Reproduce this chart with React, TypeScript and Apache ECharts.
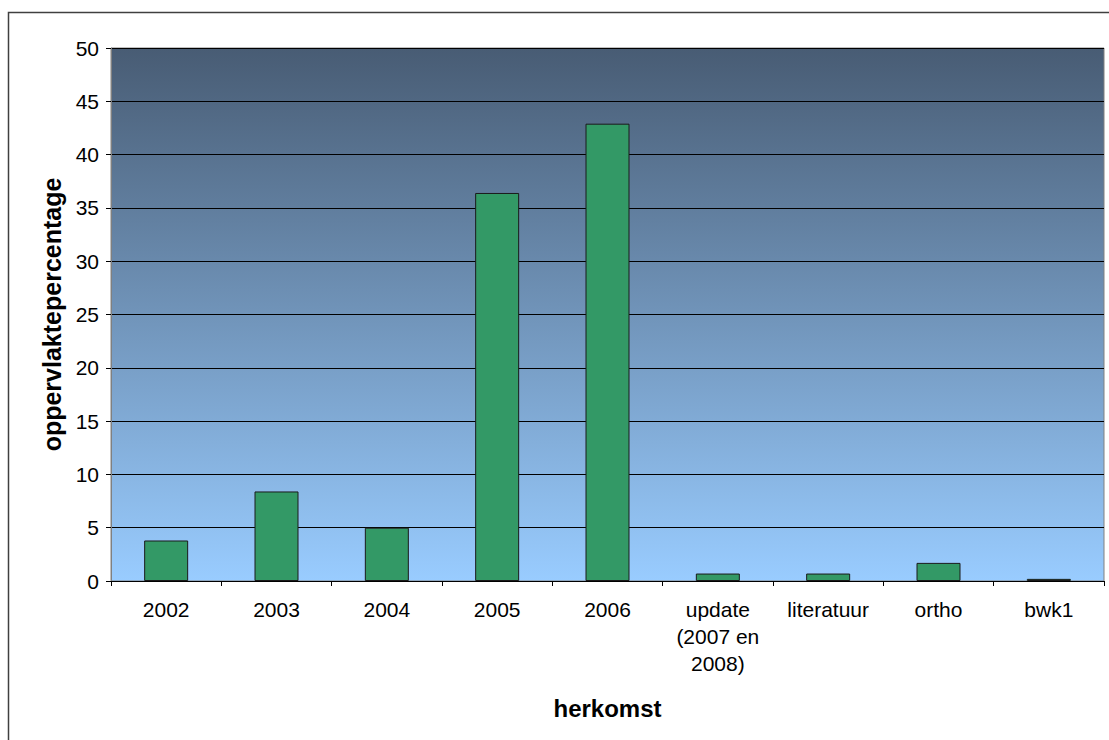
import React, { useEffect, useRef } from "react";
import * as echarts from "echarts";

const categories = ["2002", "2003", "2004", "2005", "2006", "update (2007 en 2008)", "literatuur", "ortho", "bwk1"];
const values = [3.8, 8.4, 5.0, 36.4, 42.9, 0.7, 0.7, 1.7, 0.2];
const yTicks = { min: 0, max: 50, interval: 5 };
const xTitle = "herkomst";
const yTitle = "oppervlaktepercentage";

export default function App() {
  const ref = useRef<HTMLDivElement>(null);
  useEffect(() => {
    if (!ref.current) return;
    const chart = echarts.init(ref.current, null, { renderer: "svg" });
    const font = "'Liberation Sans', Arial, sans-serif";
    chart.setOption({
      animation: false,
      textStyle: { fontFamily: font },
      grid: {
        left: 111,
        top: 48,
        right: 5,
        bottom: 159,
        show: true,
        borderColor: "#808080",
        borderWidth: 1,
        backgroundColor: new echarts.graphic.LinearGradient(0, 0, 0, 1, [
          { offset: 0, color: "#485c74" },
          { offset: 1, color: "#99ccff" },
        ]),
      },
      graphic: [
        {
          type: "rect",
          shape: { x: 8.5, y: 12.5, width: 1200, height: 800 },
          style: { fill: "none", stroke: "#404040", lineWidth: 1.5 },
          silent: true,
          z: -1,
        },
      ],
      xAxis: {
        type: "category",
        data: categories,
        name: xTitle,
        nameLocation: "middle",
        nameGap: 115,
        nameTextStyle: { fontSize: 24, fontWeight: "bold", color: "#000", fontFamily: font },
        axisLine: { show: true, lineStyle: { color: "#000", width: 1 } },
        axisTick: { show: true, length: 5, lineStyle: { color: "#000" }, alignWithLabel: false },
        axisLabel: {
          color: "#000",
          fontSize: 21,
          fontFamily: font,
          margin: 15,
          lineHeight: 27,
          interval: 0,
          formatter: (v: string) => (v === "update (2007 en 2008)" ? "update\n(2007 en\n2008)" : v),
        },
      },
      yAxis: {
        type: "value",
        min: yTicks.min,
        max: yTicks.max,
        interval: yTicks.interval,
        name: yTitle,
        nameLocation: "middle",
        nameGap: 47,
        nameTextStyle: { fontSize: 25, fontWeight: "bold", color: "#000", fontFamily: font },
        axisLine: { show: true, lineStyle: { color: "#808080", width: 1 } },
        axisTick: { show: true, length: 5, lineStyle: { color: "#000" } },
        axisLabel: { color: "#000", fontSize: 21, fontFamily: font, margin: 12 },
        splitLine: { show: true, lineStyle: { color: "#000", width: 1 } },
      },
      series: [
        {
          type: "bar",
          data: values,
          barWidth: 44,
          itemStyle: { color: "#339966", borderColor: "#1a1a1a", borderWidth: 1 },
        },
      ],
    });
    return () => chart.dispose();
  }, []);
  return (
    <div
      ref={ref}
      style={{ position: "absolute", left: 0, top: 0, width: 1109, height: 740, background: "#fff" }}
    />
  );
}
